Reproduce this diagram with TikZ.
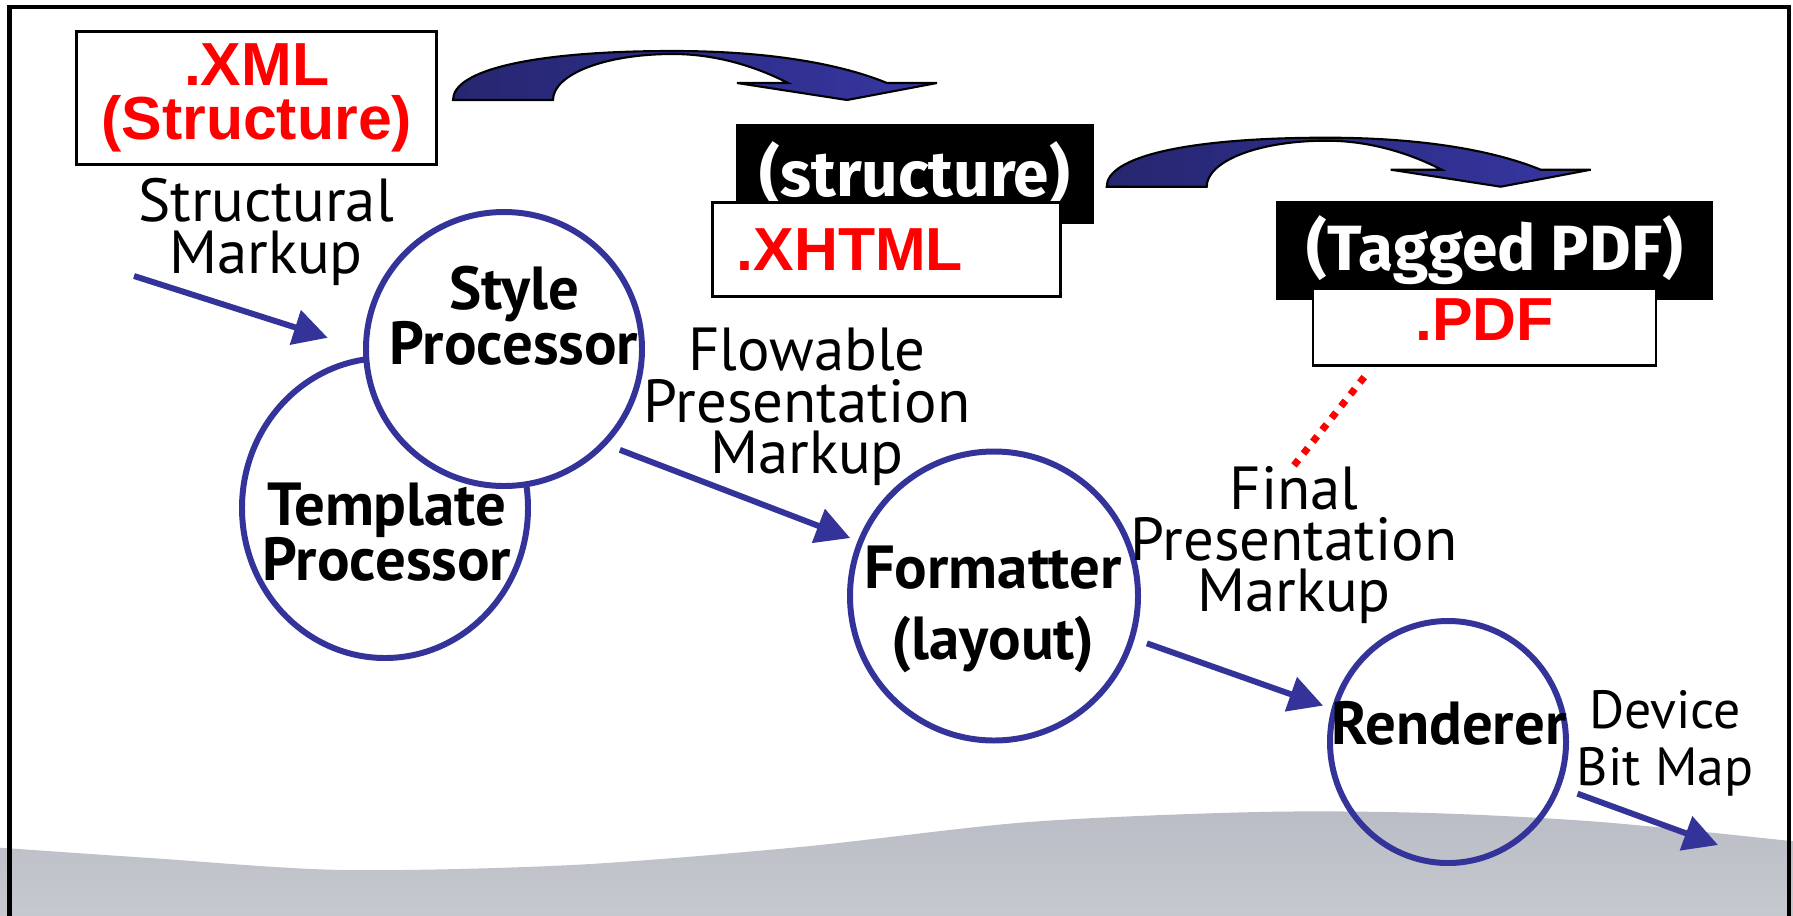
\documentclass[tikz,border=0pt]{standalone}
\usepackage{fontspec}
\setmainfont{PT Sans}
\newfontfamily\arialfont{Liberation Sans}
\newfontfamily\boxfont{Fira Sans}
\usetikzlibrary{shapes.geometric,arrows.meta}
\lineskiplimit=-100pt
\definecolor{procblue}{RGB}{51,51,153}
\definecolor{arrowdark}{RGB}{38,38,112}
\definecolor{arrowlight}{RGB}{54,54,162}
\definecolor{wavegrey}{RGB}{186,189,197}
\definecolor{wavelight}{RGB}{200,202,209}
\tikzset{
  proc/.style={ellipse, draw=procblue, line width=1.7pt, inner sep=0pt},
  flow/.style={draw=procblue, line width=1.7pt, -{Triangle[length=9.7pt,width=10pt]}},
  lbl/.style={align=center, inner sep=0pt, font=\fontsize{17.3}{14.6}\selectfont},
  proclbl/.style={align=center, inner sep=0pt, font=\bfseries\fontsize{17.3}{15.6}\selectfont},
  redbox/.style={draw, line width=0.75pt, fill=white, inner sep=0pt, text=red,
    font=\arialfont\bfseries\fontsize{17.3}{15.4}\selectfont},
  blackbox/.style={draw, fill=black, text=white, inner sep=0pt, font=\boxfont\bfseries\fontsize{18.2}{15}\selectfont},
  bigarrow/.pic={
    \draw[line width=0.6pt, left color=arrowdark, right color=arrowlight]
      (0,0) .. controls (0,-0.30) and (0.8,-0.49) .. (2.2,-0.49)
      .. controls (3.2,-0.49) and (3.9,-0.35) .. (4.34,-0.17)
      -- (4.84,-0.17) -- (3.94,0) -- (2.84,-0.17) -- (3.35,-0.17)
      .. controls (3.0,-0.35) and (2.6,-0.46) .. (2.2,-0.46)
      .. controls (1.5,-0.46) and (1.0,-0.25) .. (1.0,0) -- cycle;
  }
}
\begin{document}
\begin{tikzpicture}[x=1cm,y=-1cm]
\useasboundingbox (0,0) rectangle (17.93,9.15);
%Background
\shade[top color=wavegrey, bottom color=wavelight]
  plot[smooth] coordinates {(-0.1,8.47) (1.5,8.58) (3.43,8.70) (5.72,8.65) (8.0,8.47)
    (10.29,8.22) (12.58,8.12) (14.29,8.13) (16.01,8.22) (18.0,8.42)}
  -- (18.0,9.3) -- (-0.1,9.3) -- cycle;
\draw[line width=1.15pt] (0.095,9.3) -- (0.095,0.068) -- (17.887,0.068) -- (17.887,9.3);
%Documents
\node[redbox, minimum width=36mm, minimum height=13.3mm, align=center] (xml) at (2.567,0.983) {.XML\\(Structure)};
\node[blackbox, minimum width=35.6mm, minimum height=9.8mm] (structure) at (9.148,1.74) {(structure)};
\node[redbox, minimum width=34.8mm, minimum height=9.4mm, text width=30mm, inner xsep=2.4mm, align=left] (xhtml) at (8.867,2.498) {.XHTML};
\node[blackbox, minimum width=43.6mm, minimum height=9.7mm] (tagged) at (14.947,2.503) {(Tagged PDF)};
\node[redbox, minimum width=34.3mm, minimum height=7.7mm, text depth=1.6mm] (pdf) at (14.845,3.273) {.PDF};
\pic (xmlarrow) at (4.53,1.00) {bigarrow};
\pic (pdfarrow) at (11.067,1.867) {bigarrow};
%Processors
\node[proc, minimum width=28.6mm, minimum height=30mm] (template) at (3.85,5.08) {};
\node[proc, fill=white, minimum width=27.6mm, minimum height=27.4mm] (style) at (5.04,3.49) {};
\node[proc, minimum width=28.8mm, minimum height=28.9mm] (formatter) at (9.94,5.96) {};
\node[proc, minimum width=23.6mm, minimum height=24.2mm] (renderer) at (14.48,7.42) {};
\node[proclbl] (stylelbl) at (5.14,3.16) {Style\\Processor};
\node[proclbl] (templatelbl) at (3.87,5.32) {Template\\Processor};
\node[proclbl, font=\bfseries\fontsize{17.3}{20.2}\selectfont] (formatterlbl) at (9.93,6.095) {Formatter\\(layout)};
\node[proclbl] (rendererlbl) at (14.49,7.235) {Renderer};
%Markup
\node[lbl] (structural) at (2.66,2.32) {Structural\\Markup};
\node[lbl] (flowable) at (8.07,4.07) {Flowable\\Presentation\\Markup};
\node[lbl] (final) at (12.94,5.45) {Final\\Presentation\\Markup};
\node[lbl, font=\fontsize{15.3}{16.2}\selectfont] (device) at (16.65,7.43) {Device\\Bit Map};
%Flow
\coordinate (xmlin) at (1.34,2.76);
\coordinate (bitmap) at (17.18,8.45);
\coordinate (pdftail) at (13.73,3.66);
\draw[flow, shorten >=3.7mm] (xmlin) -- (style.west);
\draw[flow, shorten <=1.4mm, shorten >=0.8mm] (style.-43) -- (formatter.158);
\draw[flow, shorten <=1.3mm, shorten >=0.9mm] (formatter.-17) -- (renderer.164);
\draw[flow, shorten <=1.8mm] (renderer.-22) -- (bitmap);
\draw[red, line width=2pt, dash pattern=on 2pt off 2.3pt, shorten >=1.4mm] (final.north) -- (pdftail);
\end{tikzpicture}
\end{document}
